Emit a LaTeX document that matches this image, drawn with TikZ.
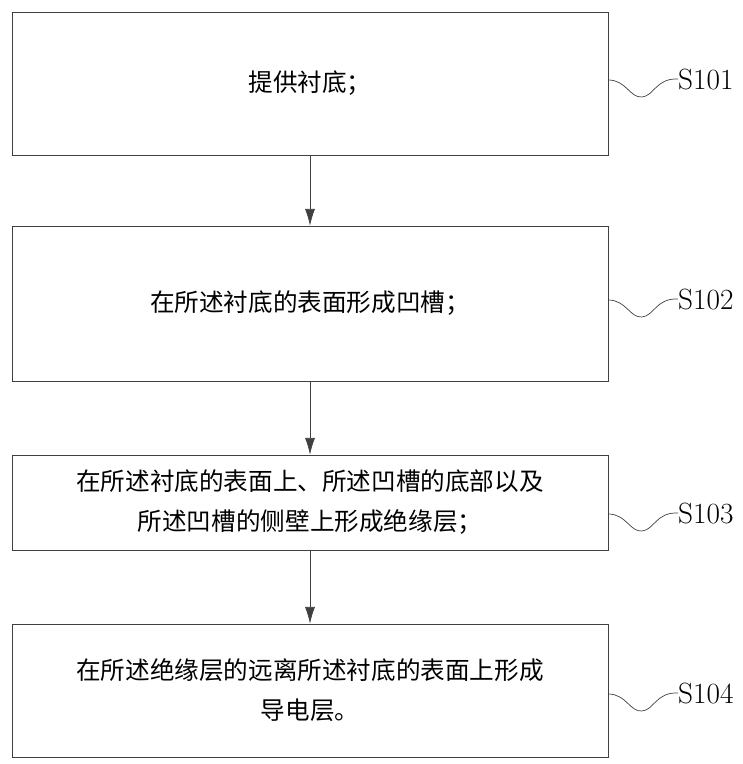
\documentclass[tikz,border=0pt]{standalone}
\usepackage{fontspec}
\newfontfamily\cjk{Noto Sans CJK SC}
\usetikzlibrary{positioning,arrows.meta}
\begin{document}
\begin{tikzpicture}[x=0.03cm, y=-0.03cm,
stepnode/.style={rectangle, draw=black!75, semithick, minimum width=17.88cm, align=center, font=\cjk\fontsize{21}{34}\selectfont},
labelnode/.style={anchor=west, inner sep=0pt, font=\fontsize{25}{28}\selectfont},
wave/.style={black!75, semithick},
flow/.style={-{Latex[length=5mm,width=3mm]}, semithick, black!75},
]
\useasboundingbox (0,0) rectangle (742,764);
%Nodes
\node[stepnode, minimum height=4.29cm] (S1) at (310,83.5) {提供衬底；};
\node[stepnode, minimum height=4.65cm] (S2) at (310,303.5) {在所述衬底的表面形成凹槽；};
\node[stepnode, minimum height=2.85cm] (S3) at (310,502.5) {在所述衬底的表面上、所述凹槽的底部以及\\所述凹槽的侧壁上形成绝缘层；};
\node[stepnode, minimum height=3.99cm] (S4) at (310,690.5) {在所述绝缘层的远离所述衬底的表面上形成\\导电层。};
\node[labelnode] (L1) at (678,79) {S101};
\node[labelnode] (L2) at (678,299) {S102};
\node[labelnode] (L3) at (678,513) {S103};
\node[labelnode] (L4) at (678,693) {S104};

%Lines
\draw[flow] (S1) -- (S2);
\draw[flow] (S2) -- (S3);
\draw[flow] (S3) -- (S4);
\foreach \s/\y in {1/78, 2/298, 3/512, 4/692}
  \draw[wave] (S\s.east |- 0,\y+2) .. controls (626,\y+2) and (630,\y+20) .. (642,\y+19)
    .. controls (654,\y+18) and (656,\y) .. (L\s.west);
\end{tikzpicture}
\end{document}
